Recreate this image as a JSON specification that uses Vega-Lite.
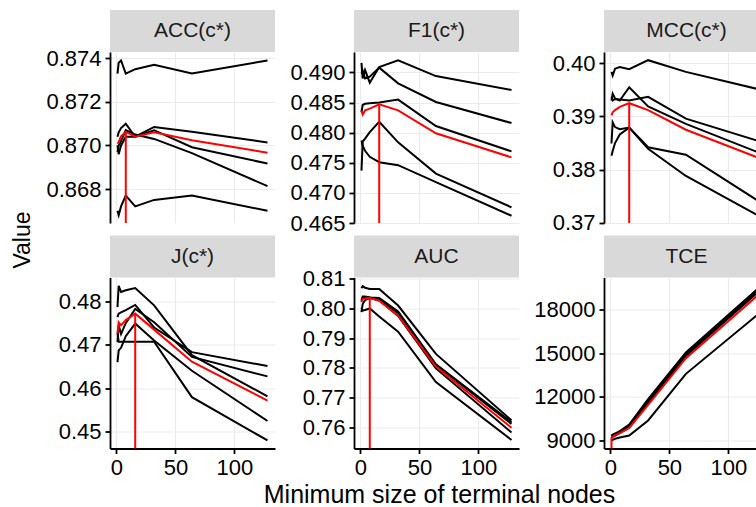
{
  "$schema": "https://vega.github.io/schema/vega-lite/v6.json",
  "padding": {"left": 12, "top": 10, "right": 0, "bottom": 0},
  "config": {
    "font": "Liberation Sans",
    "view": {"stroke": null},
    "axis": {
      "domainColor": "#000000", "domainWidth": 1.8,
      "tickColor": "#000000", "tickWidth": 1.8, "tickSize": 5,
      "labelColor": "#000000", "labelFontSize": 22, "labelFont": "Liberation Sans", "labelPadding": 4,
      "gridColor": "#ebebeb", "gridWidth": 1.1
    }
  },
  "datasets": {
    "acc": [
      {"f":"1","x":1,"v":0.8733},{"f":"1","x":2,"v":0.8738},{"f":"1","x":4,"v":0.8739},{"f":"1","x":8,"v":0.8733},{"f":"1","x":16,"v":0.8735},{"f":"1","x":32,"v":0.8737},{"f":"1","x":64,"v":0.8733},{"f":"1","x":128,"v":0.8739},
      {"f":"2","x":1,"v":0.8704},{"f":"2","x":2,"v":0.8706},{"f":"2","x":4,"v":0.8708},{"f":"2","x":8,"v":0.8710},{"f":"2","x":16,"v":0.8704},{"f":"2","x":32,"v":0.87085},{"f":"2","x":64,"v":0.87063},{"f":"2","x":128,"v":0.87014},
      {"f":"3","x":1,"v":0.8700},{"f":"3","x":2,"v":0.8696},{"f":"3","x":4,"v":0.8700},{"f":"3","x":8,"v":0.8704},{"f":"3","x":16,"v":0.8704},{"f":"3","x":32,"v":0.8707},{"f":"3","x":64,"v":0.86992},{"f":"3","x":128,"v":0.86917},
      {"f":"4","x":1,"v":0.8697},{"f":"4","x":2,"v":0.8700},{"f":"4","x":4,"v":0.8702},{"f":"4","x":8,"v":0.8707},{"f":"4","x":16,"v":0.8705},{"f":"4","x":32,"v":0.8703},{"f":"4","x":64,"v":0.86965},{"f":"4","x":128,"v":0.86813},
      {"f":"5","x":1,"v":0.8670},{"f":"5","x":2,"v":0.8668},{"f":"5","x":4,"v":0.8672},{"f":"5","x":8,"v":0.8677},{"f":"5","x":16,"v":0.8672},{"f":"5","x":32,"v":0.8675},{"f":"5","x":64,"v":0.8677},{"f":"5","x":128,"v":0.8670},
      {"f":"mean","x":1,"v":0.87008},{"f":"mean","x":2,"v":0.87016},{"f":"mean","x":4,"v":0.87042},{"f":"mean","x":8,"v":0.87062},{"f":"mean","x":16,"v":0.8704},{"f":"mean","x":32,"v":0.87061},{"f":"mean","x":64,"v":0.87024},{"f":"mean","x":128,"v":0.86967}
    ],
    "f1": [
      {"f":"1","x":1,"v":0.4916},{"f":"1","x":2,"v":0.4890},{"f":"1","x":4,"v":0.4904},{"f":"1","x":8,"v":0.4883},{"f":"1","x":16,"v":0.4909},{"f":"1","x":32,"v":0.4920},{"f":"1","x":64,"v":0.4894},{"f":"1","x":128,"v":0.4871},
      {"f":"2","x":1,"v":0.4898},{"f":"2","x":2,"v":0.4903},{"f":"2","x":4,"v":0.4890},{"f":"2","x":8,"v":0.4893},{"f":"2","x":16,"v":0.4908},{"f":"2","x":32,"v":0.4882},{"f":"2","x":64,"v":0.4851},{"f":"2","x":128,"v":0.4816},
      {"f":"3","x":1,"v":0.4834},{"f":"3","x":2,"v":0.4846},{"f":"3","x":4,"v":0.4848},{"f":"3","x":8,"v":0.4849},{"f":"3","x":16,"v":0.4850},{"f":"3","x":32,"v":0.4855},{"f":"3","x":64,"v":0.4811},{"f":"3","x":128,"v":0.4769},
      {"f":"4","x":1,"v":0.4737},{"f":"4","x":2,"v":0.4785},{"f":"4","x":4,"v":0.4790},{"f":"4","x":8,"v":0.4801},{"f":"4","x":16,"v":0.4818},{"f":"4","x":32,"v":0.4784},{"f":"4","x":64,"v":0.4732},{"f":"4","x":128,"v":0.4676},
      {"f":"5","x":1,"v":0.4787},{"f":"5","x":2,"v":0.4778},{"f":"5","x":4,"v":0.4770},{"f":"5","x":8,"v":0.4760},{"f":"5","x":16,"v":0.4751},{"f":"5","x":32,"v":0.4746},{"f":"5","x":64,"v":0.4718},{"f":"5","x":128,"v":0.4662},
      {"f":"mean","x":1,"v":0.4836},{"f":"mean","x":2,"v":0.4830},{"f":"mean","x":4,"v":0.4837},{"f":"mean","x":8,"v":0.4840},{"f":"mean","x":16,"v":0.4847},{"f":"mean","x":32,"v":0.4837},{"f":"mean","x":64,"v":0.4799},{"f":"mean","x":128,"v":0.4759}
    ],
    "mcc": [
      {"f":"1","x":1,"v":0.3984},{"f":"1","x":2,"v":0.3977},{"f":"1","x":4,"v":0.3990},{"f":"1","x":8,"v":0.3993},{"f":"1","x":16,"v":0.3989},{"f":"1","x":32,"v":0.4006},{"f":"1","x":64,"v":0.3984},{"f":"1","x":128,"v":0.3950},
      {"f":"2","x":1,"v":0.3937},{"f":"2","x":2,"v":0.3930},{"f":"2","x":4,"v":0.3933},{"f":"2","x":8,"v":0.3932},{"f":"2","x":16,"v":0.3930},{"f":"2","x":32,"v":0.3937},{"f":"2","x":64,"v":0.3896},{"f":"2","x":128,"v":0.3852},
      {"f":"3","x":1,"v":0.3930},{"f":"3","x":2,"v":0.3943},{"f":"3","x":4,"v":0.3934},{"f":"3","x":8,"v":0.3930},{"f":"3","x":16,"v":0.3955},{"f":"3","x":32,"v":0.3919},{"f":"3","x":64,"v":0.3886},{"f":"3","x":128,"v":0.3830},
      {"f":"4","x":1,"v":0.3849},{"f":"4","x":2,"v":0.3889},{"f":"4","x":4,"v":0.3880},{"f":"4","x":8,"v":0.3876},{"f":"4","x":16,"v":0.3879},{"f":"4","x":32,"v":0.3842},{"f":"4","x":64,"v":0.3828},{"f":"4","x":128,"v":0.3737},
      {"f":"5","x":1,"v":0.3826},{"f":"5","x":2,"v":0.3835},{"f":"5","x":4,"v":0.3850},{"f":"5","x":8,"v":0.3866},{"f":"5","x":16,"v":0.3879},{"f":"5","x":32,"v":0.3839},{"f":"5","x":64,"v":0.3788},{"f":"5","x":128,"v":0.3710},
      {"f":"mean","x":1,"v":0.3902},{"f":"mean","x":2,"v":0.3908},{"f":"mean","x":4,"v":0.3912},{"f":"mean","x":8,"v":0.3918},{"f":"mean","x":16,"v":0.3925},{"f":"mean","x":32,"v":0.3912},{"f":"mean","x":64,"v":0.3875},{"f":"mean","x":128,"v":0.3820}
    ],
    "j": [
      {"f":"1","x":1,"v":0.4787},{"f":"1","x":2,"v":0.4836},{"f":"1","x":4,"v":0.4822},{"f":"1","x":8,"v":0.4826},{"f":"1","x":16,"v":0.4831},{"f":"1","x":32,"v":0.4791},{"f":"1","x":64,"v":0.4676},{"f":"1","x":128,"v":0.4581},
      {"f":"2","x":1,"v":0.4764},{"f":"2","x":2,"v":0.4772},{"f":"2","x":4,"v":0.4775},{"f":"2","x":8,"v":0.4780},{"f":"2","x":16,"v":0.4792},{"f":"2","x":32,"v":0.4740},{"f":"2","x":64,"v":0.4683},{"f":"2","x":128,"v":0.4651},
      {"f":"3","x":1,"v":0.4706},{"f":"3","x":2,"v":0.4745},{"f":"3","x":4,"v":0.4725},{"f":"3","x":8,"v":0.4750},{"f":"3","x":16,"v":0.4783},{"f":"3","x":32,"v":0.4752},{"f":"3","x":64,"v":0.4672},{"f":"3","x":128,"v":0.4627},
      {"f":"4","x":1,"v":0.4660},{"f":"4","x":2,"v":0.4687},{"f":"4","x":4,"v":0.4693},{"f":"4","x":8,"v":0.4720},{"f":"4","x":16,"v":0.4749},{"f":"4","x":32,"v":0.4710},{"f":"4","x":64,"v":0.4640},{"f":"4","x":128,"v":0.4524},
      {"f":"5","x":1,"v":0.4728},{"f":"5","x":2,"v":0.4707},{"f":"5","x":4,"v":0.4707},{"f":"5","x":8,"v":0.4707},{"f":"5","x":16,"v":0.4707},{"f":"5","x":32,"v":0.4707},{"f":"5","x":64,"v":0.4579},{"f":"5","x":128,"v":0.4479},
      {"f":"mean","x":1,"v":0.4725},{"f":"mean","x":2,"v":0.4752},{"f":"mean","x":4,"v":0.4745},{"f":"mean","x":8,"v":0.4757},{"f":"mean","x":16,"v":0.4772},{"f":"mean","x":32,"v":0.4735},{"f":"mean","x":64,"v":0.4661},{"f":"mean","x":128,"v":0.4571}
    ],
    "auc": [
      {"f":"1","x":1,"v":0.8068},{"f":"1","x":2,"v":0.8075},{"f":"1","x":4,"v":0.8070},{"f":"1","x":8,"v":0.8066},{"f":"1","x":16,"v":0.8066},{"f":"1","x":32,"v":0.8010},{"f":"1","x":64,"v":0.7847},{"f":"1","x":128,"v":0.7623},
      {"f":"2","x":1,"v":0.8025},{"f":"2","x":2,"v":0.8040},{"f":"2","x":4,"v":0.8040},{"f":"2","x":8,"v":0.8037},{"f":"2","x":16,"v":0.8035},{"f":"2","x":32,"v":0.7990},{"f":"2","x":64,"v":0.7812},{"f":"2","x":128,"v":0.7617},
      {"f":"3","x":1,"v":0.8030},{"f":"3","x":2,"v":0.8035},{"f":"3","x":4,"v":0.8038},{"f":"3","x":8,"v":0.8037},{"f":"3","x":16,"v":0.8030},{"f":"3","x":32,"v":0.7985},{"f":"3","x":64,"v":0.7810},{"f":"3","x":128,"v":0.7611},
      {"f":"4","x":1,"v":0.7988},{"f":"4","x":2,"v":0.8015},{"f":"4","x":4,"v":0.8028},{"f":"4","x":8,"v":0.8035},{"f":"4","x":16,"v":0.8028},{"f":"4","x":32,"v":0.7975},{"f":"4","x":64,"v":0.7798},{"f":"4","x":128,"v":0.7582},
      {"f":"5","x":1,"v":0.8003},{"f":"5","x":2,"v":0.7993},{"f":"5","x":4,"v":0.7995},{"f":"5","x":8,"v":0.8000},{"f":"5","x":16,"v":0.7973},{"f":"5","x":32,"v":0.7922},{"f":"5","x":64,"v":0.7752},{"f":"5","x":128,"v":0.7557},
      {"f":"mean","x":1,"v":0.8021},{"f":"mean","x":2,"v":0.8032},{"f":"mean","x":4,"v":0.8034},{"f":"mean","x":8,"v":0.8035},{"f":"mean","x":16,"v":0.8026},{"f":"mean","x":32,"v":0.7976},{"f":"mean","x":64,"v":0.7804},{"f":"mean","x":128,"v":0.7598}
    ],
    "tce": [
      {"f":"1","x":1,"v":9350},{"f":"1","x":2,"v":9400},{"f":"1","x":4,"v":9480},{"f":"1","x":8,"v":9650},{"f":"1","x":16,"v":10100},{"f":"1","x":32,"v":11850},{"f":"1","x":64,"v":15050},{"f":"1","x":128,"v":19650},
      {"f":"2","x":1,"v":9300},{"f":"2","x":2,"v":9350},{"f":"2","x":4,"v":9430},{"f":"2","x":8,"v":9600},{"f":"2","x":16,"v":10030},{"f":"2","x":32,"v":11750},{"f":"2","x":64,"v":14950},{"f":"2","x":128,"v":19600},
      {"f":"3","x":1,"v":9250},{"f":"3","x":2,"v":9300},{"f":"3","x":4,"v":9380},{"f":"3","x":8,"v":9550},{"f":"3","x":16,"v":9950},{"f":"3","x":32,"v":11680},{"f":"3","x":64,"v":14880},{"f":"3","x":128,"v":19500},
      {"f":"4","x":1,"v":9200},{"f":"4","x":2,"v":9250},{"f":"4","x":4,"v":9330},{"f":"4","x":8,"v":9500},{"f":"4","x":16,"v":9900},{"f":"4","x":32,"v":11600},{"f":"4","x":64,"v":14800},{"f":"4","x":128,"v":19400},
      {"f":"5","x":1,"v":9000},{"f":"5","x":2,"v":9050},{"f":"5","x":4,"v":9120},{"f":"5","x":8,"v":9200},{"f":"5","x":16,"v":9340},{"f":"5","x":32,"v":10380},{"f":"5","x":64,"v":13580},{"f":"5","x":128,"v":17860},
      {"f":"mean","x":1,"v":9220},{"f":"mean","x":2,"v":9270},{"f":"mean","x":4,"v":9348},{"f":"mean","x":8,"v":9500},{"f":"mean","x":16,"v":9864},{"f":"mean","x":32,"v":11452},{"f":"mean","x":64,"v":14652},{"f":"mean","x":128,"v":19202}
    ],
    "opt": [
      {"m":"ACC","x":8,"v":0.87062},
      {"m":"F1","x":16,"v":0.4847},
      {"m":"MCC","x":16,"v":0.3925},
      {"m":"J","x":16,"v":0.4772},
      {"m":"AUC","x":8,"v":0.8035},
      {"m":"TCE","x":1,"v":9220}
    ]
  },
  "hconcat": [
    {
      "width": 20, "height": 460,
      "data": {"values": [{"label": "Value"}]},
      "mark": {"type": "text", "angle": 270, "fontSize": 23, "color": "#000000", "font": "Liberation Sans"},
      "encoding": {"text": {"field": "label"}}
    },
    {
      "vconcat": [
        {
          "hconcat": [
            {
              "vconcat": [
                {"width": 165, "height": 42, "view": {"fill": "#d9d9d9", "stroke": null}, "data": {"values": [{"label": "ACC(c*)"}]}, "mark": {"type": "text", "fontSize": 21, "color": "#1a1a1a", "font": "Liberation Sans"}, "encoding": {"text": {"field": "label"}}},
                {
                  "width": 165, "height": 171,
                  "data": {"name": "acc"},
                  "encoding": {
                    "x": {"field": "x", "type": "quantitative", "scale": {"domain": [-5.35, 134.35], "nice": false, "zero": false}, "axis": {"values": [0, 50, 100], "labels": false, "ticks": false, "domain": false, "title": null}},
                    "y": {"field": "v", "type": "quantitative", "scale": {"domain": [0.86644, 0.87429], "nice": false, "zero": false}, "axis": {"values": [0.868, 0.870, 0.872, 0.874], "format": ".3f", "title": null, "minExtent": 68}}
                  },
                  "layer": [
                    {"transform": [{"filter": "datum.f != 'mean'"}], "mark": {"type": "line", "color": "#000000", "strokeWidth": 2, "clip": true}, "encoding": {"detail": {"field": "f"}}},
                    {"transform": [{"filter": "datum.f == 'mean'"}], "mark": {"type": "line", "color": "#ff0000", "strokeWidth": 2, "clip": true}, "encoding": {}},
                    {"data": {"name": "opt"}, "transform": [{"filter": "datum.m == 'ACC'"}], "mark": {"type": "rule", "color": "#ff0000", "strokeWidth": 2}, "encoding": {"y2": {"datum": 0.86644}}}
                  ]
                }
              ],
              "spacing": 0, "bounds": "flush"
            },
            {
              "vconcat": [
                {"width": 165, "height": 42, "view": {"fill": "#d9d9d9", "stroke": null}, "data": {"values": [{"label": "F1(c*)"}]}, "mark": {"type": "text", "fontSize": 21, "color": "#1a1a1a", "font": "Liberation Sans"}, "encoding": {"text": {"field": "label"}}},
                {
                  "width": 165, "height": 171,
                  "data": {"name": "f1"},
                  "encoding": {
                    "x": {"field": "x", "type": "quantitative", "scale": {"domain": [-5.35, 134.35], "nice": false, "zero": false}, "axis": {"values": [0, 50, 100], "labels": false, "ticks": false, "domain": false, "title": null}},
                    "y": {"field": "v", "type": "quantitative", "scale": {"domain": [0.4650, 0.4934], "nice": false, "zero": false}, "axis": {"values": [0.465, 0.470, 0.475, 0.480, 0.485, 0.490], "format": ".3f", "title": null, "minExtent": 69}}
                  },
                  "layer": [
                    {"transform": [{"filter": "datum.f != 'mean'"}], "mark": {"type": "line", "color": "#000000", "strokeWidth": 2, "clip": true}, "encoding": {"detail": {"field": "f"}}},
                    {"transform": [{"filter": "datum.f == 'mean'"}], "mark": {"type": "line", "color": "#ff0000", "strokeWidth": 2, "clip": true}, "encoding": {}},
                    {"data": {"name": "opt"}, "transform": [{"filter": "datum.m == 'F1'"}], "mark": {"type": "rule", "color": "#ff0000", "strokeWidth": 2}, "encoding": {"y2": {"datum": 0.4650}}}
                  ]
                }
              ],
              "spacing": 0, "bounds": "flush"
            },
            {
              "vconcat": [
                {"width": 152, "height": 42, "view": {"fill": "#d9d9d9", "stroke": null}, "data": {"values": [{"label": "MCC(c*)"}]}, "mark": {"type": "text", "fontSize": 21, "color": "#1a1a1a", "font": "Liberation Sans", "dx": 6.5}, "encoding": {"text": {"field": "label"}}},
                {
                  "width": 152, "height": 171,
                  "data": {"name": "mcc"},
                  "encoding": {
                    "x": {"field": "x", "type": "quantitative", "scale": {"domain": [-5.35, 123.35], "nice": false, "zero": false}, "axis": {"values": [0, 50, 100], "labels": false, "ticks": false, "domain": false, "title": null}},
                    "y": {"field": "v", "type": "quantitative", "scale": {"domain": [0.36994, 0.40214], "nice": false, "zero": false}, "axis": {"values": [0.37, 0.38, 0.39, 0.40], "format": ".2f", "title": null, "minExtent": 75}}
                  },
                  "layer": [
                    {"transform": [{"filter": "datum.f != 'mean'"}], "mark": {"type": "line", "color": "#000000", "strokeWidth": 2, "clip": true}, "encoding": {"detail": {"field": "f"}}},
                    {"transform": [{"filter": "datum.f == 'mean'"}], "mark": {"type": "line", "color": "#ff0000", "strokeWidth": 2, "clip": true}, "encoding": {}},
                    {"data": {"name": "opt"}, "transform": [{"filter": "datum.m == 'MCC'"}], "mark": {"type": "rule", "color": "#ff0000", "strokeWidth": 2}, "encoding": {"y2": {"datum": 0.36994}}}
                  ]
                }
              ],
              "spacing": 0, "bounds": "flush"
            }
          ],
          "spacing": 10
        },
        {
          "hconcat": [
            {
              "vconcat": [
                {"width": 165, "height": 42, "view": {"fill": "#d9d9d9", "stroke": null}, "data": {"values": [{"label": "J(c*)"}]}, "mark": {"type": "text", "fontSize": 21, "color": "#1a1a1a", "font": "Liberation Sans"}, "encoding": {"text": {"field": "label"}}},
                {
                  "width": 165, "height": 171,
                  "data": {"name": "j"},
                  "encoding": {
                    "x": {"field": "x", "type": "quantitative", "scale": {"domain": [-5.35, 134.35], "nice": false, "zero": false}, "axis": {"values": [0, 50, 100], "format": "d", "title": null}},
                    "y": {"field": "v", "type": "quantitative", "scale": {"domain": [0.44605, 0.48554], "nice": false, "zero": false}, "axis": {"values": [0.45, 0.46, 0.47, 0.48], "format": ".2f", "title": null, "minExtent": 68}}
                  },
                  "layer": [
                    {"transform": [{"filter": "datum.f != 'mean'"}], "mark": {"type": "line", "color": "#000000", "strokeWidth": 2, "clip": true}, "encoding": {"detail": {"field": "f"}}},
                    {"transform": [{"filter": "datum.f == 'mean'"}], "mark": {"type": "line", "color": "#ff0000", "strokeWidth": 2, "clip": true}, "encoding": {}},
                    {"data": {"name": "opt"}, "transform": [{"filter": "datum.m == 'J'"}], "mark": {"type": "rule", "color": "#ff0000", "strokeWidth": 2}, "encoding": {"y2": {"datum": 0.44605}}}
                  ]
                }
              ],
              "spacing": 0, "bounds": "flush"
            },
            {
              "vconcat": [
                {"width": 165, "height": 42, "view": {"fill": "#d9d9d9", "stroke": null}, "data": {"values": [{"label": "AUC"}]}, "mark": {"type": "text", "fontSize": 21, "color": "#1a1a1a", "font": "Liberation Sans"}, "encoding": {"text": {"field": "label"}}},
                {
                  "width": 165, "height": 171,
                  "data": {"name": "auc"},
                  "encoding": {
                    "x": {"field": "x", "type": "quantitative", "scale": {"domain": [-5.35, 134.35], "nice": false, "zero": false}, "axis": {"values": [0, 50, 100], "format": "d", "title": null}},
                    "y": {"field": "v", "type": "quantitative", "scale": {"domain": [0.75281, 0.81044], "nice": false, "zero": false}, "axis": {"values": [0.76, 0.77, 0.78, 0.79, 0.80, 0.81], "format": ".2f", "title": null, "minExtent": 69}}
                  },
                  "layer": [
                    {"transform": [{"filter": "datum.f != 'mean'"}], "mark": {"type": "line", "color": "#000000", "strokeWidth": 2, "clip": true}, "encoding": {"detail": {"field": "f"}}},
                    {"transform": [{"filter": "datum.f == 'mean'"}], "mark": {"type": "line", "color": "#ff0000", "strokeWidth": 2, "clip": true}, "encoding": {}},
                    {"data": {"name": "opt"}, "transform": [{"filter": "datum.m == 'AUC'"}], "mark": {"type": "rule", "color": "#ff0000", "strokeWidth": 2}, "encoding": {"y2": {"datum": 0.75281}}}
                  ]
                }
              ],
              "spacing": 0, "bounds": "flush"
            },
            {
              "vconcat": [
                {"width": 152, "height": 42, "view": {"fill": "#d9d9d9", "stroke": null}, "data": {"values": [{"label": "TCE"}]}, "mark": {"type": "text", "fontSize": 21, "color": "#1a1a1a", "font": "Liberation Sans", "dx": 6.5}, "encoding": {"text": {"field": "label"}}},
                {
                  "width": 152, "height": 171,
                  "data": {"name": "tce"},
                  "encoding": {
                    "x": {"field": "x", "type": "quantitative", "scale": {"domain": [-5.35, 123.35], "nice": false, "zero": false}, "axis": {"values": [0, 50, 100], "format": "d", "title": null}},
                    "y": {"field": "v", "type": "quantitative", "scale": {"domain": [8451, 20198], "nice": false, "zero": false}, "axis": {"values": [9000, 12000, 15000, 18000], "format": "d", "title": null, "minExtent": 75}}
                  },
                  "layer": [
                    {"transform": [{"filter": "datum.f != 'mean'"}], "mark": {"type": "line", "color": "#000000", "strokeWidth": 2, "clip": true}, "encoding": {"detail": {"field": "f"}}},
                    {"transform": [{"filter": "datum.f == 'mean'"}], "mark": {"type": "line", "color": "#ff0000", "strokeWidth": 2, "clip": true}, "encoding": {}},
                    {"data": {"name": "opt"}, "transform": [{"filter": "datum.m == 'TCE'"}], "mark": {"type": "rule", "color": "#ff0000", "strokeWidth": 2}, "encoding": {"y2": {"datum": 8451}}}
                  ]
                }
              ],
              "spacing": 0, "bounds": "flush"
            }
          ],
          "spacing": 10
        },
        {
          "width": 560, "height": 30,
          "data": {"values": [{"label": "Minimum size of terminal nodes"}]},
          "mark": {"type": "text", "fontSize": 25, "color": "#000000", "font": "Liberation Sans", "dx": 49.5},
          "encoding": {"text": {"field": "label"}}
        }
      ],
      "spacing": 1.5
    }
  ],
  "spacing": 7
}
